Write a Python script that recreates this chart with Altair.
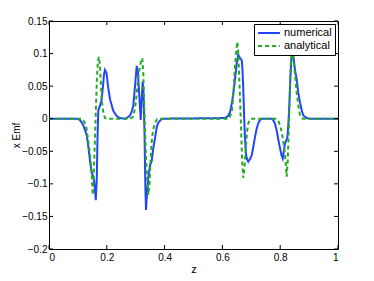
import altair as alt
import pandas as pd

# numerical solution (z, x Emf)
num_z = [0, 0.0958, 0.1073, 0.1187, 0.1304, 0.1367, 0.1419, 0.1478, 0.1522, 0.1557, 0.1592,
         0.1619, 0.1654, 0.1678, 0.1706, 0.1765, 0.1817, 0.1869, 0.1903, 0.1938, 0.1990,
         0.2042, 0.2111, 0.2225, 0.2343, 0.2457, 0.2664, 0.2803, 0.2872, 0.2917, 0.2976,
         0.3035, 0.3080, 0.3131, 0.3173, 0.3208, 0.3242, 0.3270, 0.3304, 0.3332, 0.3356,
         0.3384, 0.3436, 0.3495, 0.3554, 0.3609, 0.3668, 0.3727, 0.3782, 0.3900,
         0.6090, 0.6194, 0.6263, 0.6332, 0.6377, 0.6436, 0.6495, 0.6550, 0.6609, 0.6668,
         0.6696, 0.6723, 0.6754, 0.6782, 0.6817, 0.6851, 0.6896, 0.6955, 0.7014, 0.7069,
         0.7128, 0.7187, 0.7242, 0.7301, 0.7370, 0.7716, 0.7768, 0.7820, 0.7879, 0.7934,
         0.7993, 0.8045, 0.8087, 0.8131, 0.8166, 0.8201, 0.8246, 0.8280, 0.8315, 0.8349,
         0.8384, 0.8426, 0.8460, 0.8512, 0.8571, 0.8626, 0.8685, 0.8744, 0.8799, 0.8917,
         0.9031, 1.0]
num_v = [0, 0, -0.002, -0.01, -0.025, -0.045, -0.065, -0.083, -0.087, -0.095, -0.11,
         -0.125, -0.09, -0.03, 0.013, 0.02, 0.028, 0.05, 0.068, 0.075, 0.07,
         0.05, 0.03, 0.012, 0.004, 0.001, 0, 0.005, 0.012, 0.02, 0.05,
         0.081, 0.07, 0.03, -0.002, 0.03, 0.057, 0.04, -0.02, -0.1, -0.14,
         -0.12, -0.09, -0.072, -0.065, -0.045, -0.03, -0.013, -0.006, 0,
         0.001, 0.004, 0.01, 0.025, 0.039, 0.06, 0.085, 0.098, 0.093, 0.09,
         0.075, 0.045, 0.0, -0.03, -0.055, -0.062, -0.066, -0.062, -0.056, -0.043,
         -0.028, -0.015, -0.007, -0.002, 0, 0, -0.003, -0.008, -0.018, -0.032,
         -0.045, -0.056, -0.061, -0.048, -0.038, -0.034, -0.03, -0.01, 0.02, 0.06,
         0.09, 0.1, 0.095, 0.075, 0.06, 0.04, 0.025, 0.013, 0.005, 0.001,
         0, 0]

# analytical solution (z, x Emf)
ana_z = [0, 0.1142, 0.1246, 0.1298, 0.1360, 0.1419, 0.1478, 0.1512, 0.1547, 0.1592, 0.1626,
         0.1661, 0.1696, 0.1730, 0.1765, 0.1799, 0.1834, 0.1886, 0.1938, 0.2007,
         0.2803, 0.2907, 0.2976, 0.3035, 0.3080, 0.3125, 0.3183, 0.3228, 0.3263, 0.3294,
         0.3322, 0.3356, 0.3391, 0.3436, 0.3478, 0.3512, 0.3554, 0.3599, 0.3668, 0.3737,
         0.3841, 0.6228, 0.6322, 0.6367, 0.6401, 0.6436, 0.6481, 0.6516, 0.6550, 0.6585,
         0.6619, 0.6651, 0.6678, 0.6723, 0.6765, 0.6817, 0.6851, 0.6896, 0.6955, 0.7024,
         0.7855, 0.7934, 0.7993, 0.8052, 0.8107, 0.8166, 0.8225, 0.8260, 0.8287, 0.8315,
         0.8346, 0.8374, 0.8401, 0.8436, 0.8478, 0.8529, 0.8571, 0.8626, 0.8685, 0.8744,
         0.8789, 1.0]
ana_v = [0, 0, -0.007, -0.015, -0.035, -0.055, -0.085, -0.117, -0.09, -0.03, 0.02,
         0.065, 0.09, 0.095, 0.08, 0.05, 0.025, 0.008, 0.001, 0,
         0, 0.003, 0.015, 0.038, 0.06, 0.075, 0.088, 0.093, 0.07, 0.02,
         -0.02, -0.06, -0.09, -0.117, -0.1, -0.065, -0.035, -0.018, -0.006, -0.001,
         0, 0, 0.01, 0.03, 0.055, 0.08, 0.105, 0.118, 0.1, 0.06,
         0.02, -0.02, -0.06, -0.091, -0.075, -0.04, -0.02, -0.007, -0.001, 0,
         0, -0.003, -0.01, -0.02, -0.035, -0.055, -0.089, -0.065, -0.03, 0.01,
         0.06, 0.09, 0.105, 0.1, 0.083, 0.06, 0.04, 0.02, 0.006, 0.001,
         0, 0]

series_names = ["numerical", "analytical"]
series_colors = ["#2244ff", "#22aa22"]

x_ticks = [0, 0.2, 0.4, 0.6, 0.8, 1]
y_ticks = [-0.2, -0.15, -0.1, -0.05, 0, 0.05, 0.1, 0.15]

df = pd.concat([
    pd.DataFrame({"z": num_z, "v": num_v, "series": series_names[0], "order": 0}),
    pd.DataFrame({"z": ana_z, "v": ana_v, "series": series_names[1], "order": 1}),
])

W, H = 289, 228
FONT = "Liberation Sans"

xscale = alt.Scale(domain=[0, 1], nice=False)
yscale = alt.Scale(domain=[-0.2, 0.15], nice=False)
xaxis = alt.Axis(values=x_ticks, labelExpr="format(datum.value, '~g')", title="z")
yaxis = alt.Axis(values=y_ticks, labelExpr="format(datum.value, '~g')", title="x Emf")

lines = alt.Chart(df).mark_line(strokeWidth=2, clip=True).encode(
    x=alt.X("z:Q", scale=xscale, axis=xaxis),
    y=alt.Y("v:Q", scale=yscale, axis=yaxis),
    color=alt.Color("series:N", scale=alt.Scale(domain=series_names, range=series_colors),
                    legend=alt.Legend(title=None, orient="top-right", offset=3,
                                      strokeColor="black", fillColor="white",
                                      padding=3, symbolType="stroke", symbolSize=480,
                                      symbolStrokeWidth=2, labelFontSize=11,
                                      labelFont=FONT, rowPadding=1, labelOffset=3,
                                      clipHeight=12)),
    strokeDash=alt.StrokeDash("series:N",
                              scale=alt.Scale(domain=series_names, range=[[1, 0], [4, 3]]),
                              legend=None),
    order="order:Q",
)

xt = pd.DataFrame({"t": x_ticks})
yt = pd.DataFrame({"t": y_ticks})

tick_bottom = alt.Chart(xt).mark_rule(color="black", strokeWidth=1).encode(
    x=alt.X("t:Q", scale=xscale, axis=xaxis), y=alt.value(H), y2=alt.value(H - 4))
tick_top = alt.Chart(xt).mark_rule(color="black", strokeWidth=1).encode(
    x=alt.X("t:Q", scale=xscale, axis=xaxis), y=alt.value(0), y2=alt.value(4))
tick_left = alt.Chart(yt).mark_rule(color="black", strokeWidth=1).encode(
    y=alt.Y("t:Q", scale=yscale, axis=yaxis), x=alt.value(0), x2=alt.value(4))
tick_right = alt.Chart(yt).mark_rule(color="black", strokeWidth=1).encode(
    y=alt.Y("t:Q", scale=yscale, axis=yaxis), x=alt.value(W), x2=alt.value(W - 4))

chart = alt.layer(lines, tick_bottom, tick_top, tick_left, tick_right).properties(
    width=W, height=H,
    autosize=alt.AutoSizeParams(type="none"),
    padding={"left": 41, "top": 13, "right": 28, "bottom": 32},
    background="white",
).configure_view(
    stroke="black", strokeWidth=1
).configure_axis(
    ticks=False, domain=False, grid=False, labelOverlap=False,
    labelFont=FONT, labelFontSize=10, labelColor="black",
    titleFont=FONT, titleFontSize=11, titleFontWeight="normal", titleColor="black",
).configure_axisX(
    labelPadding=3, titlePadding=1,
).configure_axisY(
    labelPadding=2, titlePadding=0, titleFontSize=10,
)

chart.save("out.html", embed_options={"renderer": "svg", "actions": False})
